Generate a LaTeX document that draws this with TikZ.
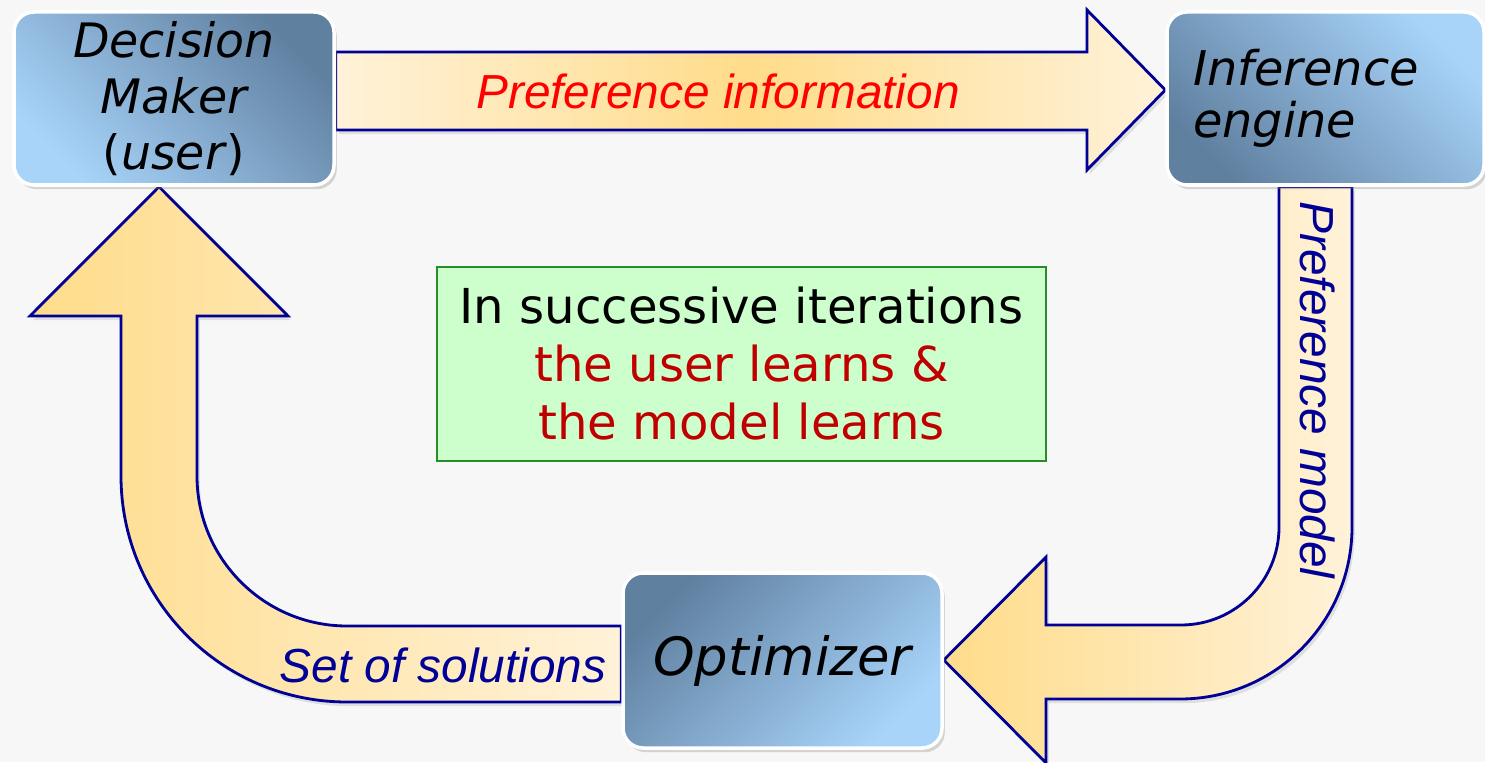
\documentclass[tikz,border=0pt]{standalone}
\usepackage{fontspec}
\setmainfont{DejaVu Sans}
\newfontfamily\arialfont{Liberation Sans}
\usetikzlibrary{shadows}

\definecolor{bgGray}{RGB}{247,247,247}
\definecolor{boxDark}{RGB}{96,128,160}
\definecolor{boxLight}{RGB}{168,212,250}
\definecolor{arrGold}{RGB}{255,220,138}
\definecolor{arrCream}{RGB}{255,242,217}
\definecolor{arrLine}{RGB}{0,0,150}
\definecolor{noteFill}{RGB}{204,255,204}
\definecolor{noteLine}{RGB}{40,140,40}
\definecolor{noteRed}{RGB}{192,0,0}

\pgfdeclarelayer{back}
\pgfsetlayers{back,main}

\tikzset{
  agent/.style={rounded corners=0.2cm, draw=white, line width=1pt,
    minimum width=3.2cm, minimum height=1.73cm, inner sep=0pt, align=center,
    font=\fontsize{13.5}{16}\selectfont\itshape,
    drop shadow={shadow xshift=0.8pt, shadow yshift=-1.2pt, opacity=0.3}},
  flow/.style={draw=arrLine, line width=0.8pt, line join=miter,
    drop shadow={shadow xshift=0.8pt, shadow yshift=-1.2pt, opacity=0.2}},
  flowlabel/.style={font=\fontsize{13.6}{16}\arialfont\itshape, text=arrLine, inner sep=0pt}
}

\begin{document}
\begin{tikzpicture}
  \useasboundingbox (0,0) rectangle (14.85,7.62);

  % the three actors
  \node[agent, top color=boxDark, bottom color=boxLight, shading angle=-45] (dm) at (1.74,6.635)
    {Decision\\Maker\\\textup{(}user\textup{)}};
  \node[agent, top color=boxLight, bottom color=boxDark, shading angle=-45,
    minimum width=3.17cm, text width=2.65cm, align=left,
    font=\fontsize{13.6}{14.8}\selectfont\itshape] (ie) at (13.255,6.635)
    {Inference\\engine};
  \node[agent, top color=boxDark, bottom color=boxLight, shading angle=45,
    minimum width=3.19cm, minimum height=1.75cm,
    font=\fontsize{15}{18}\selectfont\itshape] (opt) at (7.825,1.015) {Optimizer};

  \begin{pgfonlayer}{back}
    \fill[bgGray] (0,0) rectangle (14.85,7.62);
    % DM -> inference engine
    \draw[flow, left color=arrCream, right color=arrCream, middle color=arrGold]
      (dm.east |- 0,7.10) -- (10.87,7.10) -- (10.87,7.52) -- (ie.west |- 0,6.72)
      -- (10.87,5.92) -- (10.87,6.32) -- (dm.east |- 0,6.32) -- cycle;
    % inference engine -> optimizer
    \draw[flow, left color=arrGold, right color=arrCream]
      (ie.south -| 12.79,0) -- (12.79,2.35) arc[start angle=0, end angle=-90, radius=0.98]
      -- (10.46,1.37) -- (10.46,2.05) -- (opt.east |- 0,1.02) -- (10.46,-0.01)
      -- (10.46,0.63) -- (11.80,0.63) arc[start angle=-90, end angle=0, radius=1.72]
      -- (ie.south -| 13.52,0) -- cycle;
    % optimizer -> DM
    \draw[flow, left color=arrGold, right color=arrCream]
      (opt.west |- 0,1.36) -- (3.47,1.36) arc[start angle=-90, end angle=-180, radius=1.50]
      -- (1.97,4.46) -- (2.88,4.46) -- (dm.south -| 1.59,0) -- (0.30,4.46)
      -- (1.21,4.46) -- (1.21,2.86) arc[start angle=180, end angle=270, radius=2.26]
      -- (opt.west |- 0,0.60) -- cycle;
  \end{pgfonlayer}

  \node[flowlabel, text=red] (pinfo) at (7.18,6.71) {Preference information};
  \node[flowlabel, rotate=-90] (pmodel) at (13.18,3.72) {Preference model};
  \node[flowlabel] (sols) at (4.43,0.97) {Set of solutions};

  \node[draw=noteLine, fill=noteFill, line width=0.8pt, minimum width=6.09cm,
    minimum height=1.94cm, align=center, font=\fontsize{13.7}{16.5}\selectfont] (note) at (7.415,3.98)
    {In successive iterations\\\textcolor{noteRed}{the user learns \&}\\\textcolor{noteRed}{the model learns}};
\end{tikzpicture}
\end{document}
